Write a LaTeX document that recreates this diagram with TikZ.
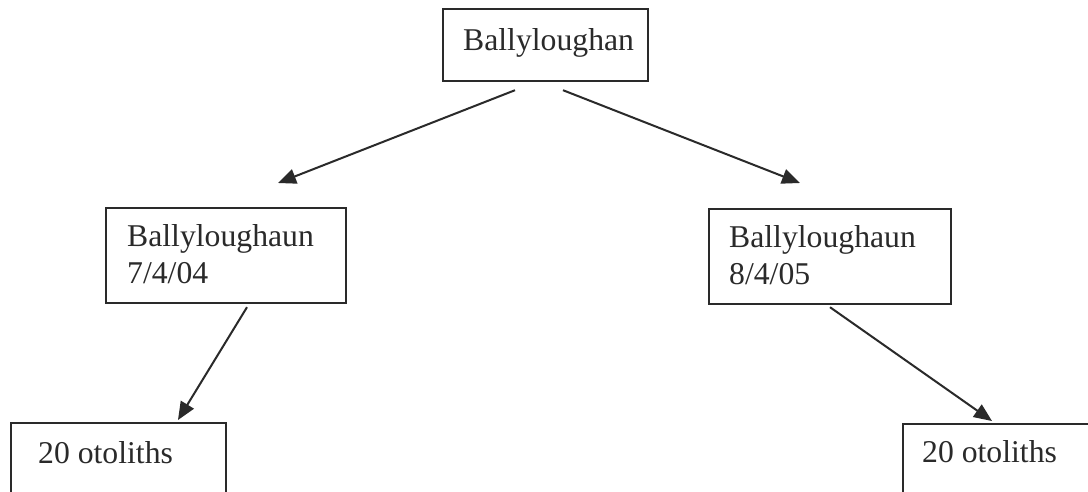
\documentclass[tikz,border=0pt]{standalone}
\usepackage{fontspec}
\setmainfont{Liberation Serif}
\usetikzlibrary{arrows.meta,calc}
\definecolor{ink}{HTML}{2A2A2A}
\begin{document}
\begin{tikzpicture}[x=1pt,y=-1pt,
  boxnode/.style={draw=ink,line width=2.2pt,inner sep=0pt,anchor=north west},
  label/.style={anchor=base west,inner sep=0pt,text=ink,font=\fontsize{31.7}{37}\selectfont},
  conn/.style={draw=ink,line width=2pt,-{Triangle[length=18pt,width=15pt]}}]
\useasboundingbox (0,0) rectangle (1088,491);
\clip (0,0) rectangle (1088,491);
\fill[white] (0,0) rectangle (1088,491);
% boxes
\node[boxnode,minimum width=205pt,minimum height=72pt] (top) at (442,8) {};
\node[boxnode,minimum width=240pt,minimum height=95pt] (lmid) at (105,207) {};
\node[boxnode,minimum width=242pt,minimum height=95pt] (rmid) at (708,208) {};
\node[boxnode,minimum width=215pt,minimum height=100pt] (lbot) at (10,422) {};
\node[boxnode,minimum width=200pt,minimum height=100pt] (rbot) at (902,423) {};
% texts
\node[label] (ttop) at (463,50) {Ballyloughan};
\node[label] (tlm1) at (127,246) {Ballyloughaun};
\node[label] (tlm2) at (127,283) {7/4/04};
\node[label] (trm1) at (729,247) {Ballyloughaun};
\node[label] (trm2) at (729,284) {8/4/05};
\node[label] (tlb) at (38,463) {20 otoliths};
\node[label] (trb) at (922,462) {20 otoliths};
% connector end points
\coordinate (s1) at ($(top.south west)+(73,8)$);
\coordinate (s2) at ($(top.south west)+(121,8)$);
\coordinate (e1) at ($(lmid.north west)+(173,-24)$);
\coordinate (e2) at ($(rmid.north west)+(92,-25)$);
\coordinate (s3) at ($(lmid.south west)+(142,3)$);
\coordinate (e3) at ($(lbot.north west)+(168,-2)$);
\coordinate (s4) at ($(rmid.south west)+(122,2)$);
\coordinate (e4) at ($(rbot.north west)+(90,-2)$);
\draw[conn] (s1) -- (e1);
\draw[conn] (s2) -- (e2);
\draw[conn] (s3) -- (e3);
\draw[conn] (s4) -- (e4);
\end{tikzpicture}
\end{document}
